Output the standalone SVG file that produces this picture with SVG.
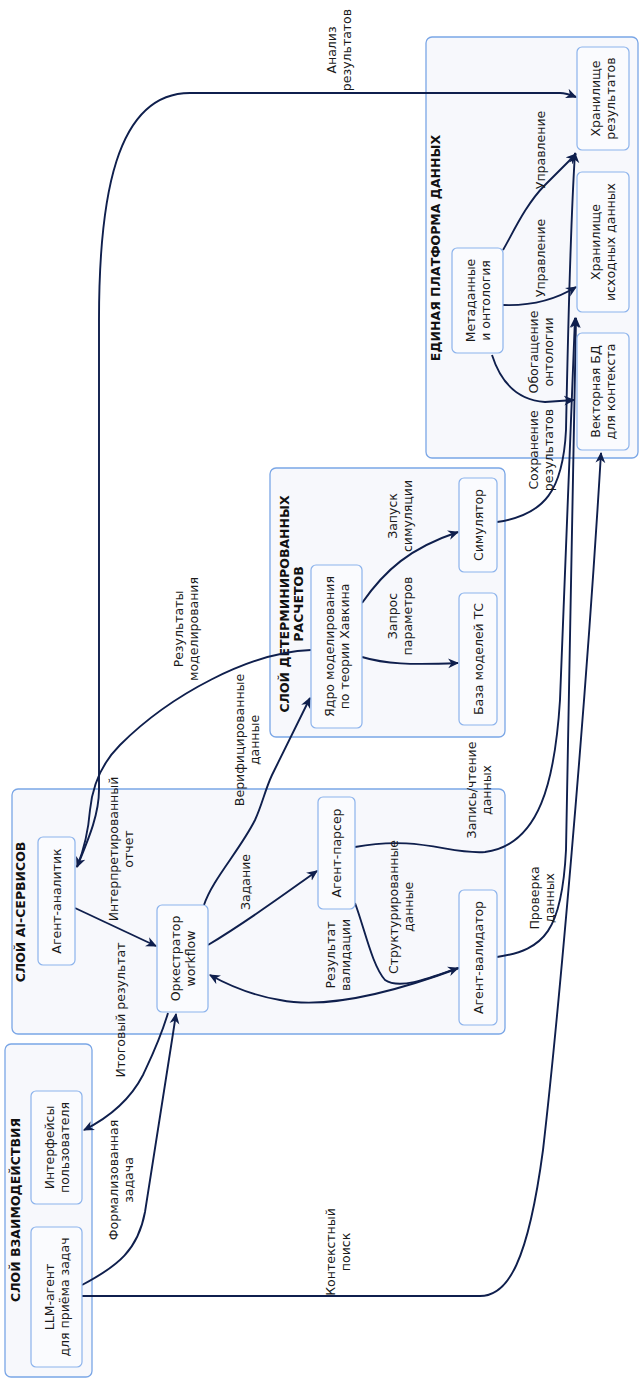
<svg xmlns="http://www.w3.org/2000/svg" width="644" height="1381" viewBox="0 0 644 1381">
<style>
.cl{fill:#f7f8fc;stroke:#7aa6e6;stroke-width:1.3}
.nd{fill:#fafbfe;stroke:#8cb3ec;stroke-width:1.2}
.t{font-family:"DejaVu Sans",sans-serif;font-size:12.5px;text-anchor:middle;dominant-baseline:central;fill:#1a1a1a}
.h{font-family:"DejaVu Sans",sans-serif;font-size:12.5px;font-weight:bold;text-anchor:middle;dominant-baseline:central;fill:#111}
.e{fill:none;stroke:#0f1f4d;stroke-width:1.9}
.a{marker-end:url(#ah)}
</style>
<defs>
<marker id="ah" viewBox="0 0 10 10" refX="9" refY="5" markerWidth="11" markerHeight="11" markerUnits="userSpaceOnUse" orient="auto"><path d="M0,0.5 L10,5 L0,9.5 L3,5 z" fill="#0f1f4d"/></marker>
</defs>
<rect width="644" height="1381" fill="#ffffff"/>

<g id="cluster-interaction">
<rect class="cl" x="5" y="1044" width="87" height="333" rx="6"/>
<text class="h" transform="translate(15,1210) rotate(-90)">СЛОЙ ВЗАИМОДЕЙСТВИЯ</text>
</g>
<g id="cluster-ai">
<rect class="cl" x="12" y="789" width="493" height="245" rx="6"/>
<text class="h" transform="translate(20,912) rotate(-90)">СЛОЙ AI-СЕРВИСОВ</text>
</g>
<g id="cluster-det">
<rect class="cl" x="270" y="468" width="235" height="269" rx="6"/>
<text class="h" transform="translate(284,604) rotate(-90)">СЛОЙ ДЕТЕРМИНИРОВАННЫХ</text>
<text class="h" transform="translate(298,604) rotate(-90)">РАСЧЕТОВ</text>
</g>
<g id="cluster-data">
<rect class="cl" x="426" y="37" width="212" height="421" rx="6"/>
<text class="h" transform="translate(435,248) rotate(-90)">ЕДИНАЯ ПЛАТФОРМА ДАННЫХ</text>
</g>

<g id="connectors">
<path class="e a" d="M82,1285 C118,1266 138,1250 145,1212 L172,1040 L176,1014"/>
<path class="e a" d="M168,1013 C160,1040 150,1060 143,1075 C130,1100 108,1118 84,1130"/>
<path class="e a" d="M82,1296 L480,1296 C508,1296 528,1262 543,1150 C558,1020 585,720 601,453"/>
<path class="e a" d="M208,945 C250,920 290,890 317,871"/>
<path class="e a" d="M75,908 L156,946"/>
<path class="e a" d="M204,905 C212,880 240,850 255,820 C262,805 265,790 272,775 L310,698"/>
<path class="e a" d="M311,650 C250,652 170,695 120,745 C100,765 92,790 90,810 C88,835 83,852 77,867"/>
<path class="e a" d="M77,867 C88,840 99,815 99,790 L99,320 C99,200 115,93 190,93 L560,93 C566,93 571,95 576,97"/>
<path class="e a" d="M355,903 C365,930 372,965 385,980 C400,990 430,978 458,968"/>
<path class="e a" d="M459,968 C400,990 330,1010 280,1000 C250,995 228,985 210,975"/>
<path class="e a" d="M355,847 C420,835 450,855 485,852 C540,845 555,780 560,700 L575,318"/>
<path class="e a" d="M497,957 C545,950 562,930 566,850 L576,318"/>
<path class="e a" d="M497,522 C545,515 563,490 566,430 C568,330 572,200 575,153"/>
<path class="e a" d="M362,603 C385,570 410,548 458,532"/>
<path class="e a" d="M362,657 C385,664 410,665 458,663"/>
<path class="e a" d="M503,250 C512,235 525,205 545,185 C558,172 568,162 576,154"/>
<path class="e a" d="M503,305 C530,306 555,300 576,287"/>
<path class="e a" d="M492,355 C500,380 515,400 545,402 L574,400"/>
</g>

<g id="edge-labels">
<text class="t" transform="translate(113,1180) rotate(-90)">Формализованная</text>
<text class="t" transform="translate(128,1180) rotate(-90)">задача</text>
<text class="t" transform="translate(120,1010) rotate(-90)">Итоговый результат</text>
<text class="t" transform="translate(330,1252) rotate(-90)">Контекстный</text>
<text class="t" transform="translate(345,1252) rotate(-90)">поиск</text>
<text class="t" transform="translate(245,882) rotate(-90)">Задание</text>
<text class="t" transform="translate(113,849) rotate(-90)">Интерпретированный</text>
<text class="t" transform="translate(128,849) rotate(-90)">отчет</text>
<text class="t" transform="translate(239,740) rotate(-90)">Верифицированные</text>
<text class="t" transform="translate(254,740) rotate(-90)">данные</text>
<text class="t" transform="translate(178,629) rotate(-90)">Результаты</text>
<text class="t" transform="translate(193,629) rotate(-90)">моделирования</text>
<text class="t" transform="translate(331,50) rotate(-90)">Анализ</text>
<text class="t" transform="translate(346,50) rotate(-90)">результатов</text>
<text class="t" transform="translate(393,907) rotate(-90)">Структурированные</text>
<text class="t" transform="translate(408,907) rotate(-90)">данные</text>
<text class="t" transform="translate(330,955) rotate(-90)">Результат</text>
<text class="t" transform="translate(345,955) rotate(-90)">валидации</text>
<text class="t" transform="translate(471,790) rotate(-90)">Запись/чтение</text>
<text class="t" transform="translate(486,790) rotate(-90)">данных</text>
<text class="t" transform="translate(534,898) rotate(-90)">Проверка</text>
<text class="t" transform="translate(549,898) rotate(-90)">данных</text>
<text class="t" transform="translate(533,450) rotate(-90)">Сохранение</text>
<text class="t" transform="translate(548,450) rotate(-90)">результатов</text>
<text class="t" transform="translate(392,516) rotate(-90)">Запуск</text>
<text class="t" transform="translate(407,516) rotate(-90)">симуляции</text>
<text class="t" transform="translate(392,616) rotate(-90)">Запрос</text>
<text class="t" transform="translate(407,616) rotate(-90)">параметров</text>
<text class="t" transform="translate(540,150) rotate(-90)">Управление</text>
<text class="t" transform="translate(540,258) rotate(-90)">Управление</text>
<text class="t" transform="translate(533,352) rotate(-90)">Обогащение</text>
<text class="t" transform="translate(548,352) rotate(-90)">онтологии</text>
</g>

<g id="n-interfaces">
<rect class="nd" x="31" y="1091" width="51" height="113" rx="5"/>
<text class="t" transform="translate(49,1147.5) rotate(-90)">Интерфейсы</text>
<text class="t" transform="translate(64,1147.5) rotate(-90)">пользователя</text>
</g>
<g id="n-llm">
<rect class="nd" x="31" y="1227" width="51" height="140" rx="5"/>
<text class="t" transform="translate(49,1297) rotate(-90)">LLM-агент</text>
<text class="t" transform="translate(64,1297) rotate(-90)">для приёма задач</text>
</g>
<g id="n-analyst">
<rect class="nd" x="38" y="837" width="37" height="128" rx="5"/>
<text class="t" transform="translate(56.5,901) rotate(-90)">Агент-аналитик</text>
</g>
<g id="n-orch">
<rect class="nd" x="157" y="905" width="51" height="107" rx="5"/>
<text class="t" transform="translate(175,958.5) rotate(-90)">Оркестратор</text>
<text class="t" transform="translate(190,958.5) rotate(-90)">workflow</text>
</g>
<g id="n-parser">
<rect class="nd" x="318" y="797" width="37" height="112" rx="5"/>
<text class="t" transform="translate(336.5,853) rotate(-90)">Агент-парсер</text>
</g>
<g id="n-validator">
<rect class="nd" x="459" y="890" width="38" height="135" rx="5"/>
<text class="t" transform="translate(478,957.5) rotate(-90)">Агент-валидатор</text>
</g>
<g id="n-core">
<rect class="nd" x="311" y="565" width="51" height="163" rx="5"/>
<text class="t" transform="translate(329,646.5) rotate(-90)">Ядро моделирования</text>
<text class="t" transform="translate(344,646.5) rotate(-90)">по теории Хавкина</text>
</g>
<g id="n-sim">
<rect class="nd" x="459" y="478" width="38" height="94" rx="5"/>
<text class="t" transform="translate(478,525) rotate(-90)">Симулятор</text>
</g>
<g id="n-models">
<rect class="nd" x="459" y="593" width="38" height="132" rx="5"/>
<text class="t" transform="translate(478,659) rotate(-90)">База моделей ТС</text>
</g>
<g id="n-results">
<rect class="nd" x="577" y="47" width="52" height="103" rx="5"/>
<text class="t" transform="translate(595.5,98.5) rotate(-90)">Хранилище</text>
<text class="t" transform="translate(610.5,98.5) rotate(-90)">результатов</text>
</g>
<g id="n-source">
<rect class="nd" x="577" y="172" width="52" height="140" rx="5"/>
<text class="t" transform="translate(595.5,242) rotate(-90)">Хранилище</text>
<text class="t" transform="translate(610.5,242) rotate(-90)">исходных данных</text>
</g>
<g id="n-vector">
<rect class="nd" x="577" y="333" width="52" height="117" rx="5"/>
<text class="t" transform="translate(595.5,391.5) rotate(-90)">Векторная БД</text>
<text class="t" transform="translate(610.5,391.5) rotate(-90)">для контекста</text>
</g>
<g id="n-meta">
<rect class="nd" x="452" y="248" width="51" height="105" rx="5"/>
<text class="t" transform="translate(470,300.5) rotate(-90)">Метаданные</text>
<text class="t" transform="translate(485,300.5) rotate(-90)">и онтология</text>
</g>
</svg>
